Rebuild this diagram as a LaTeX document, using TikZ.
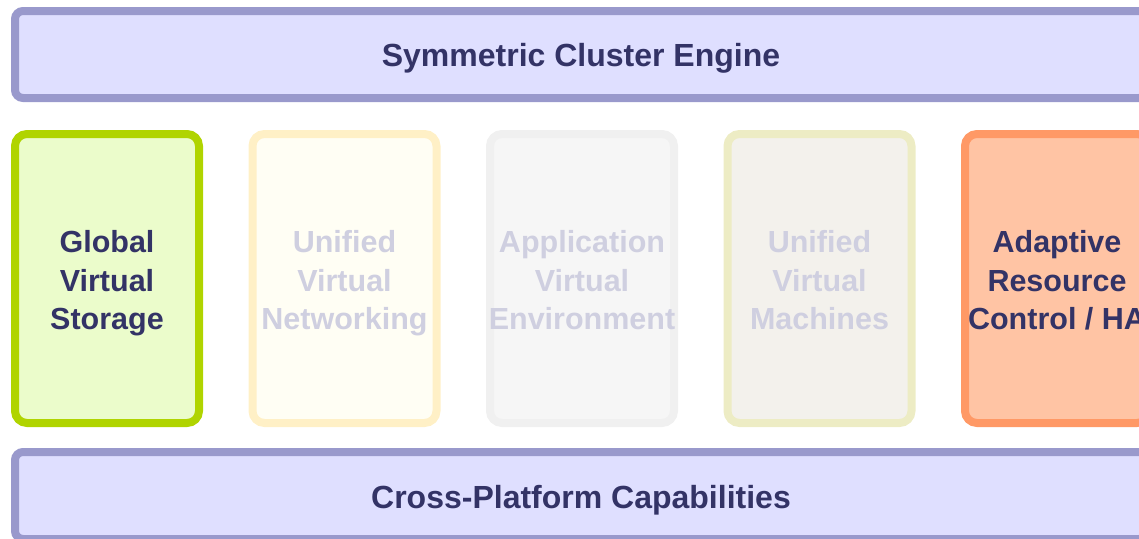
\documentclass[tikz,border=0pt]{standalone}
\usepackage{fontspec}
\setmainfont{Liberation Sans}
\definecolor{navy}{HTML}{333366}
\definecolor{faded}{HTML}{CFCFE0}
\definecolor{barfill}{HTML}{DFDFFF}
\definecolor{barline}{HTML}{9999CC}
\definecolor{grnline}{HTML}{B0D400}
\definecolor{grnfill}{HTML}{EBFCCB}
\definecolor{yelline}{HTML}{FFF0C6}
\definecolor{yelfill}{HTML}{FFFEF4}
\definecolor{gryline}{HTML}{F0F0F0}
\definecolor{gryfill}{HTML}{F6F6F6}
\definecolor{olvline}{HTML}{EDECC4}
\definecolor{olvfill}{HTML}{F3F1EC}
\definecolor{orgline}{HTML}{FF9966}
\definecolor{orgfill}{HTML}{FFC4A4}
\tikzset{
  bar/.style={draw=barline, fill=barfill, line width=8pt, rounded corners=8pt,
    minimum width=1132pt, minimum height=87pt, inner sep=0pt},
  bartext/.style={font=\bfseries\fontsize{32}{37}\selectfont, align=center, inner sep=0pt, text=navy},
  pillar/.style={line width=8pt, rounded corners=12pt,
    minimum width=184pt, minimum height=289pt, inner sep=0pt},
  piltext/.style={font=\bfseries\fontsize{30.5}{38.5}\selectfont, align=center, inner sep=0pt}
}
\begin{document}
\begin{tikzpicture}[x=1pt,y=1pt]
\useasboundingbox (0,0) rectangle (1139,-538);
\clip (0,0) rectangle (1139,-538);
\node[bar] (top) at (581,-54.5) {};
\node[bartext] (topt) at (581,-58.7) {\strut Symmetric Cluster Engine\strut};
\node[bar] (bottom) at (581,-495.5) {};
\node[bartext] (bottomt) at (581,-500.7) {\strut Cross-Platform Capabilities\strut};
\node[pillar, draw=grnline, fill=grnfill] (gvs) at (107,-278.5) {};
\node[piltext, text=navy] (gvst) at (107,-283.4) {\strut Global\\Virtual\\Storage\strut};
\node[pillar, draw=yelline, fill=yelfill] (uvn) at (344.5,-278.5) {};
\node[piltext, text=faded] (uvnt) at (344.5,-283.4) {\strut Unified\\Virtual\\Networking\strut};
\node[pillar, draw=gryline, fill=gryfill] (ave) at (582,-278.5) {};
\node[piltext, text=faded] (avet) at (582,-283.4) {\strut Application\\Virtual\\Environment\strut};
\node[pillar, draw=olvline, fill=olvfill] (uvm) at (819.5,-278.5) {};
\node[piltext, text=faded] (uvmt) at (819.5,-283.4) {\strut Unified\\Virtual\\Machines\strut};
\node[pillar, draw=orgline, fill=orgfill] (arc) at (1057,-278.5) {};
\node[piltext, text=navy] (arct) at (1057,-283.4) {\strut Adaptive\\Resource\\Control / HA\strut};
\end{tikzpicture}
\end{document}
